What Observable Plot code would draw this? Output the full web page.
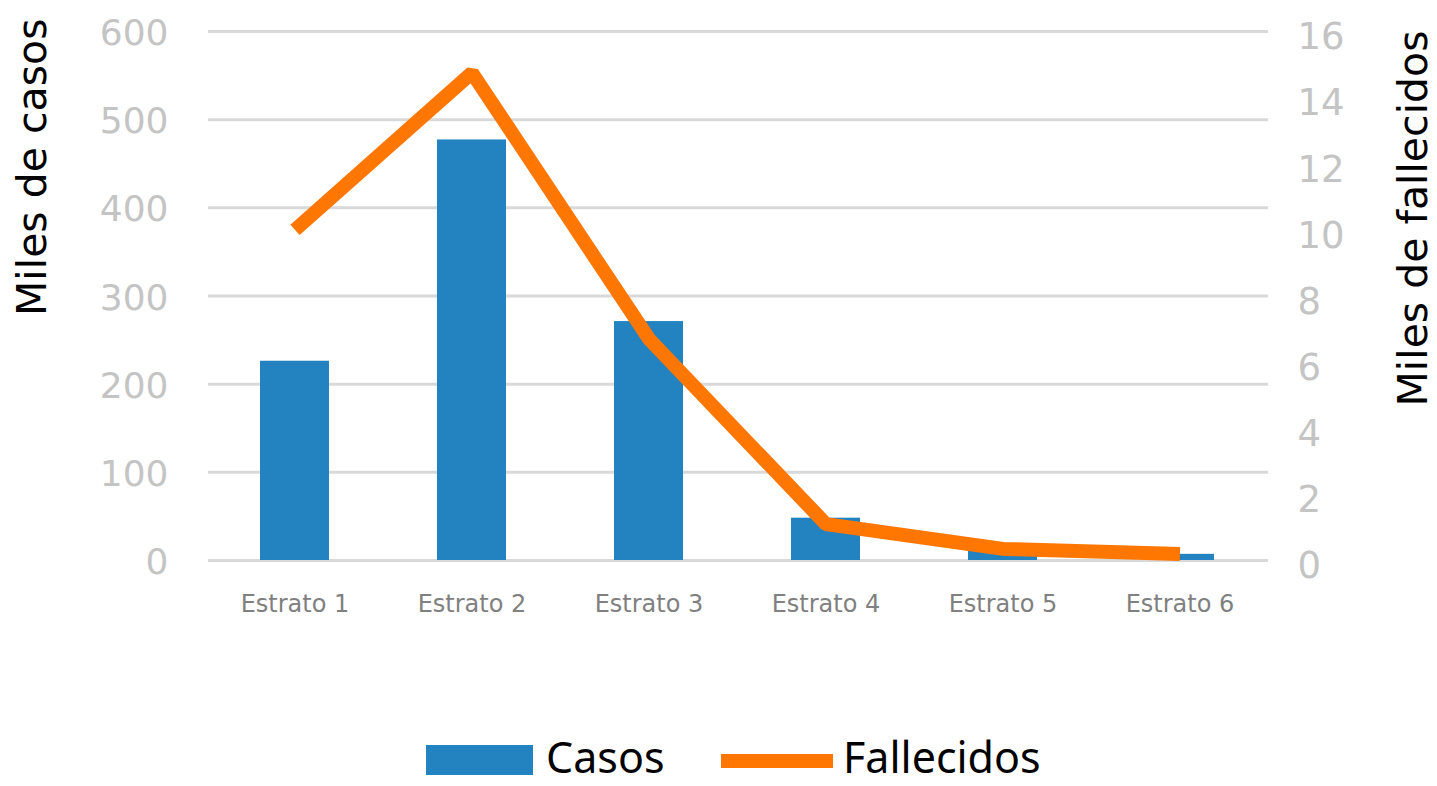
<!DOCTYPE html>
<html>
<head>
<meta charset="utf-8">
<script src="https://cdn.jsdelivr.net/npm/d3@7"></script>
<script src="https://cdn.jsdelivr.net/npm/@observablehq/plot@0.6"></script>
<style>
  html, body { margin: 0; padding: 0; background: #fff; overflow: hidden; }
  #chart svg { display: block; }
  #legend { position: relative; height: 69px; font-family: "Noto Sans", sans-serif; font-size: 43px; color: #000; }
  #legend > * { position: absolute; }
  .sw-bar { left: 426px; top: 28px; width: 107px; height: 30px; background: #2383c1; }
  .sw-line { left: 721px; top: 37px; width: 112px; height: 14px; background: #ff7600; }
  .t1 { left: 546px; top: 11px; line-height: 58px; }
  .t2 { left: 843px; top: 11px; line-height: 58px; }
</style>
</head>
<body>
<div id="chart"></div>
<div id="legend">
  <div class="sw-bar"></div><span class="t1">Casos</span>
  <div class="sw-line"></div><span class="t2">Fallecidos</span>
</div>
<script>
const categories = ["Estrato 1", "Estrato 2", "Estrato 3", "Estrato 4", "Estrato 5", "Estrato 6"];
const casos = [226, 477, 271, 48, 11, 7];          // miles de casos
const fallecidos = [10.0, 14.75, 6.7, 1.1, 0.35, 0.2]; // miles de fallecidos
const leftTicks = [0, 100, 200, 300, 400, 500, 600];
const rightTicks = [0, 2, 4, 6, 8, 10, 12, 14, 16];
const leftTitle = "Miles de casos";
const rightTitle = "Miles de fallecidos";

const ratio = 600 / 16;
const data = categories.map((c, i) => ({cat: c, casos: casos[i], fall: fallecidos[i], fallScaled: fallecidos[i] * ratio}));

const font = "DejaVu Sans, sans-serif";

const chart = Plot.plot({
  width: 1437,
  height: 717,
  marginTop: 31,
  marginBottom: 157,
  marginLeft: 210,
  marginRight: 172,
  style: { fontFamily: font, background: "#fff", overflow: "visible" },
  x: { domain: categories, paddingInner: 0.61, paddingOuter: 0.28, axis: null },
  y: { domain: [0, 600], axis: null },
  marks: [
    Plot.ruleY(leftTicks, { stroke: "#d9d9d9", strokeWidth: 3, insetLeft: -2, insetRight: -3 }),
    Plot.barY(data, { x: "cat", y: "casos", fill: "#2383c1" }),
    Plot.line(data, { x: "cat", y: "fallScaled", stroke: "#ff7600", strokeWidth: 14, strokeLinejoin: "miter", strokeLinecap: "butt" }),
    Plot.axisX({ tickSize: 0, tickPadding: 34, fontSize: 24, color: "#808080", label: null }),
    Plot.axisY(leftTicks, { anchor: "left", tickSize: 0, tickPadding: 42, fontSize: 36, color: "#c4c4c4", label: null, dy: 2 }),
    Plot.axisY(rightTicks.map(v => v * ratio), { anchor: "right", tickSize: 0, tickPadding: 32, fontSize: 37, color: "#c4c4c4", label: null, dy: 6, tickFormat: d => Math.round(d / ratio) }),
    Plot.text([leftTitle], { text: d => d, frameAnchor: "top-left", rotate: -90, textAnchor: "end", dx: -194, dy: -13, fontSize: 41, fill: "#000" }),
    Plot.text([rightTitle], { text: d => d, frameAnchor: "top-right", rotate: -90, textAnchor: "end", dx: 132, dy: -1, fontSize: 41, fill: "#000" })
  ]
});
document.getElementById("chart").appendChild(chart);
</script>
</body>
</html>
